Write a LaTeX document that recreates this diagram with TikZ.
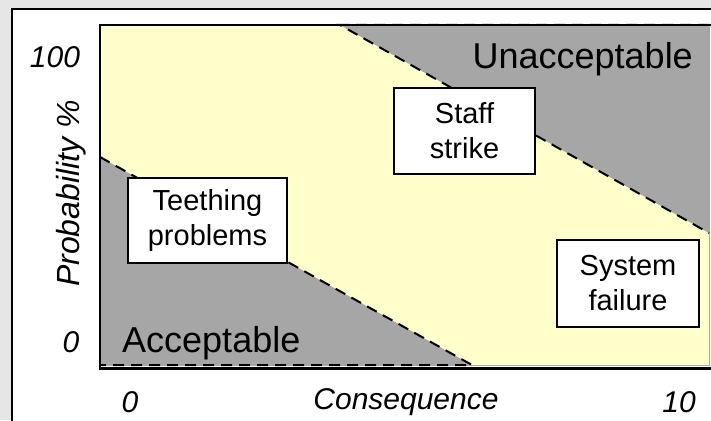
\documentclass[tikz,border=0pt]{standalone}
\usepackage{fontspec}
\setmainfont{Liberation Sans}
\usepackage{tikz}
\definecolor{panelgray}{RGB}{230,230,230}
\definecolor{paleyellow}{RGB}{255,255,204}
\definecolor{riskgray}{RGB}{166,166,166}
\usetikzlibrary{positioning}
\tikzstyle{box}=[draw,rectangle,fill=white,line width=1.5pt,inner sep=0pt,
align=center,font=\fontsize{29}{35}\selectfont]
\tikzstyle{zone}=[draw=black,line width=2pt,dash pattern=on 11pt off 7pt]
\tikzstyle{axis}=[inner sep=0pt,font=\fontsize{30}{36}\selectfont\itshape]

\begin{document}
\begin{tikzpicture}[x=1pt, y=-1pt]
  \tikzstyle{region}=[inner sep=0pt, font=\fontsize{36}{43}\selectfont]

  \path[use as bounding box, clip] (0,0) rectangle (711,420);
  \fill[panelgray] (0,0) rectangle (711,420);
  \draw[fill=white, line width=2pt] (12,9) rectangle (730,440);

  % background and the two zones
  \draw[fill=paleyellow, draw=riskgray, line width=1pt] (100,25) rectangle (709,365);
  \coordinate (lo1) at (100,157);
  \coordinate (lo2) at (472,365);
  \coordinate (hi1) at (340,25);
  \coordinate (hi2) at (709,233);
  \fill[riskgray] (lo1) -- (lo2) -- (100,365) -- cycle;
  \fill[riskgray] (hi1) -- (hi2) -- (709,25) -- cycle;
  \draw[riskgray, line width=1pt] (hi2) -- (709,25);
  \draw[zone] (lo1) -- (lo2) -- (100,365);
  \draw[zone] (709,25) -- (hi1) -- (hi2);

  % frame
  \draw[line width=2.2pt] (720,25) -- (100,25) -- (100,368.5) -- (720,368.5);

  \node[region, anchor=base east] (unacc) at (693,68) {Unacceptable};
  \node[region, anchor=base west] (acc) at (122,352) {Acceptable};

  \node[box, minimum width=159pt, minimum height=85pt] (teething)
    at (207.5,220.5) {Teething\\problems};
  \node[box, minimum width=141pt, minimum height=86pt] (strike)
    at (464.5,131) {Staff\\strike};
  \node[box, minimum width=142pt, minimum height=87pt] (failure)
    at (628,283.5) {System\\failure};

  \node[axis] (p100) at (55,57) {100};
  \node[axis] (p0) at (71,342) {0};
  \node[axis, rotate=90, anchor=base east,
    font=\fontsize{32}{38}\selectfont\itshape] (prob)
    at (79,100) {Probability \%};
  \node[axis] (c0) at (130,402) {0};
  \node[axis] (c10) at (679,402) {10};
  \node[axis] (cons) at (406,402) {Consequence};
\end{tikzpicture}
\end{document}
